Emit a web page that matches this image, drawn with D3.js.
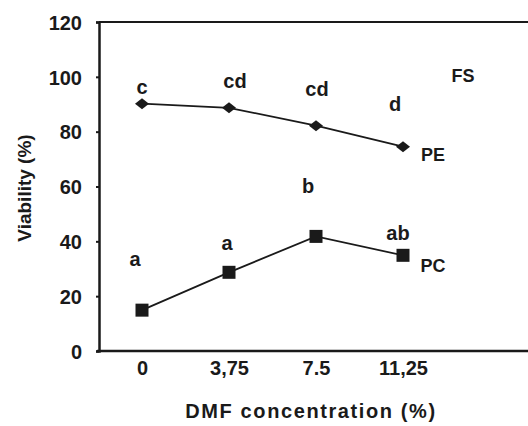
<!DOCTYPE html>
<html><head><meta charset="utf-8">
<script src="https://cdn.jsdelivr.net/npm/d3@7"></script>
<style>body{margin:0;background:#fff}svg{display:block}text{font-family:"Liberation Sans",Arial,sans-serif;fill:#1a1a1a}</style>
</head><body>
<script>
const concentrations = [0, 3.75, 7.5, 11.25];
const xTickLabels = ["0", "3,75", "7.5", "11,25"];
const peValues = [90.2, 88.7, 82.2, 74.5];
const pcValues = [14.9, 28.7, 41.8, 34.9];
const peLetters = ["c", "cd", "cd", "d"];
const pcLetters = ["a", "a", "b", "ab"];
const yTicks = [0, 20, 40, 60, 80, 100, 120];

const W = 528, H = 426;
const svg = d3.select("body").append("svg").attr("width", W).attr("height", H);
const x = d3.scaleLinear().domain([0, 11.25]).range([142, 403]);
const y = d3.scaleLinear().domain([0, 120]).range([351, 22]);
const ink = "#1a1a1a";

// frame: top line and bottom axis
svg.append("line").attr("x1", 99).attr("x2", W).attr("y1", y(120)).attr("y2", y(120)).attr("stroke", ink).attr("stroke-width", 2);
svg.append("line").attr("x1", 97).attr("x2", W).attr("y1", y(0)).attr("y2", y(0)).attr("stroke", ink).attr("stroke-width", 2.5);

// y axis
const yAxis = svg.append("g").attr("transform", "translate(99,0)")
  .call(d3.axisLeft(y).tickValues(yTicks).tickSize(3).tickPadding(14).tickFormat(d3.format("d")));
yAxis.select(".domain").attr("stroke", ink).attr("stroke-width", 2.5);
yAxis.selectAll(".tick line").attr("stroke", ink).attr("stroke-width", 2);
yAxis.selectAll("text").style("font-size", "20px").style("font-weight", "bold").attr("fill", ink).attr("dy", "0.36em");

// x axis labels
const xAxis = svg.append("g").attr("transform", `translate(0,${y(0)})`)
  .call(d3.axisBottom(x).tickValues(concentrations).tickSize(0).tickPadding(10).tickFormat((d, i) => xTickLabels[i]));
xAxis.select(".domain").remove();
xAxis.selectAll("text").style("font-size", "20px").style("font-weight", "bold").attr("fill", ink);

// axis titles
svg.append("text").attr("x", 311).attr("y", 418).attr("text-anchor", "middle")
  .style("font-size", "20px").style("font-weight", "bold").style("letter-spacing", "1.6px").text("DMF concentration (%)");
svg.append("text").attr("transform", "translate(31,188) rotate(-90)").attr("text-anchor", "middle")
  .style("font-size", "19px").style("font-weight", "bold").text("Viability (%)");

const line = d3.line().x((d, i) => x(concentrations[i])).y(d => y(d));

// PE series
svg.append("path").datum(peValues).attr("d", line).attr("fill", "none").attr("stroke", ink).attr("stroke-width", 1.8);
svg.selectAll(".pe").data(peValues).enter().append("path")
  .attr("transform", (d, i) => `translate(${x(concentrations[i])},${y(d)})`)
  .attr("d", "M-7,0L0,-5.5L7,0L0,5.5Z").attr("fill", ink);

// PC series
svg.append("path").datum(pcValues).attr("d", line).attr("fill", "none").attr("stroke", ink).attr("stroke-width", 1.8);
svg.selectAll(".pc").data(pcValues).enter().append("rect")
  .attr("x", (d, i) => x(concentrations[i]) - 6.5).attr("y", d => y(d) - 6.5)
  .attr("width", 13).attr("height", 13).attr("fill", ink);

// significance letters
const peLetterOffsets = [-17, -27, -37, -43];
svg.selectAll(".pel").data(peLetters).enter().append("text")
  .attr("x", (d, i) => x(concentrations[i]) + [-0, 6, 1, -8][i])
  .attr("y", (d, i) => y(peValues[i]) + peLetterOffsets[i] + 7)
  .attr("text-anchor", "middle").style("font-size", "20px").style("font-weight", "bold").text(d => d);
const pcLetterOffsets = [-51, -29, -50, -22];
svg.selectAll(".pcl").data(pcLetters).enter().append("text")
  .attr("x", (d, i) => x(concentrations[i]) + [-7, -2, -8, -5][i])
  .attr("y", (d, i) => y(pcValues[i]) + pcLetterOffsets[i] + 7)
  .attr("text-anchor", "middle").style("font-size", "20px").style("font-weight", "bold").text(d => d);

// series labels
svg.append("text").attr("x", 433).attr("y", y(peValues[3]) + 14).attr("text-anchor", "middle")
  .style("font-size", "18px").style("font-weight", "bold").text("PE");
svg.append("text").attr("x", 433).attr("y", y(pcValues[3]) + 17).attr("text-anchor", "middle")
  .style("font-size", "18px").style("font-weight", "bold").text("PC");
svg.append("text").attr("x", 463).attr("y", 82).attr("text-anchor", "middle")
  .style("font-size", "18px").style("font-weight", "bold").text("FS");
</script>
</body></html>
